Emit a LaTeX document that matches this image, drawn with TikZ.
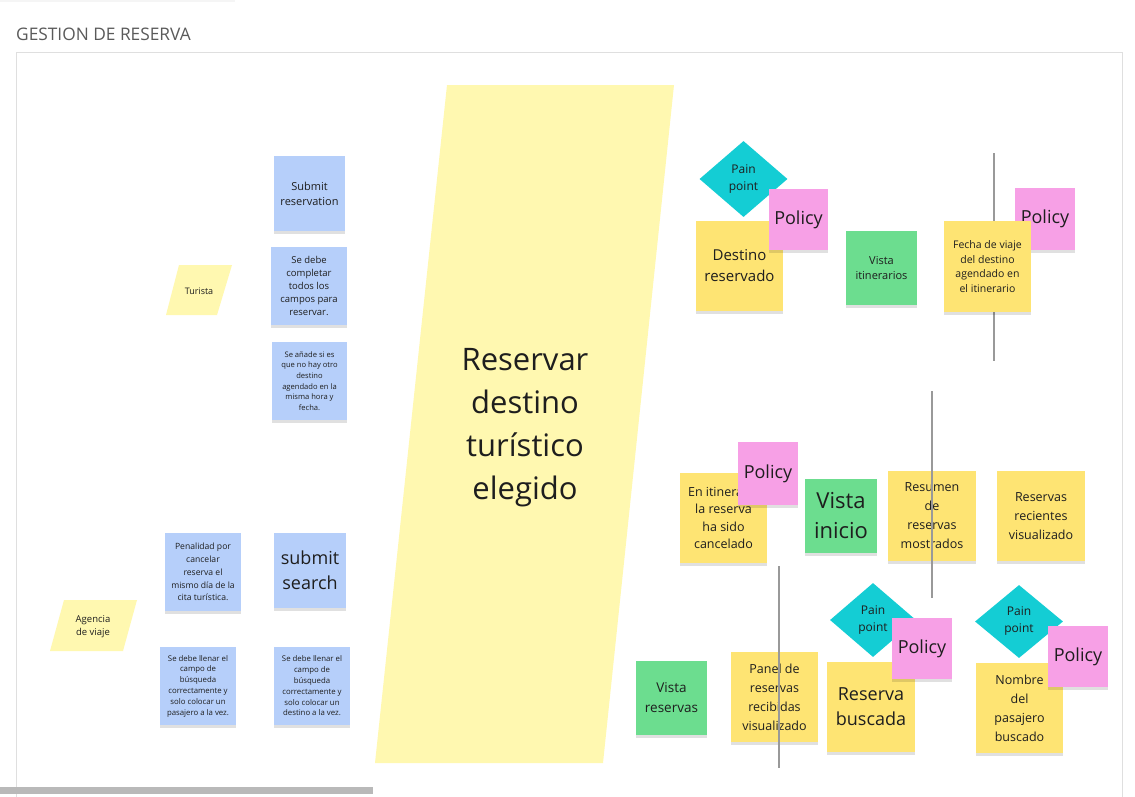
\documentclass[tikz,border=0pt]{standalone}
\usepackage{fontspec}
\setmainfont{Open Sans}
\usepackage{xcolor}
\usetikzlibrary{shapes.geometric}
\usetikzlibrary{shadows}
\definecolor{inkdark}{HTML}{1E1E1E}
\definecolor{titlegray}{HTML}{5A5A5A}
\definecolor{blueNote}{HTML}{B6CFFA}
\definecolor{yellowNote}{HTML}{FEE473}
\definecolor{paleYellow}{HTML}{FFF8B0}
\definecolor{greenNote}{HTML}{6CDD8F}
\definecolor{pinkNote}{HTML}{F7A0E6}
\definecolor{cyanNote}{HTML}{14CDD4}
\newcommand{\fsz}[2]{\fontsize{#1}{#2}\selectfont}

\tikzset{
  sticky/.style={inner sep=0pt, align=center, text=inkdark,
    drop shadow={shadow xshift=0pt, shadow yshift=-3pt, opacity=0.12, fill=black}},
  size/.style 2 args={minimum width=#1pt, minimum height=#2pt},
  bluenote/.style={sticky, fill=blueNote},
  yellownote/.style={sticky, fill=yellowNote, size={87}{90}},
  greennote/.style={sticky, fill=greenNote, size={72}{74}},
  policy/.style={sticky, fill=pinkNote, size={60}{62}, font=\fsz{18}{22}},
  painpoint/.style={diamond, inner sep=0pt, align=center, text=inkdark,
    fill=cyanNote, size={88}{75}, font=\fsz{12}{17}},
  actor/.style={align=center, text=inkdark, inner sep=0pt},
  divider/.style={draw=gray!80, line width=1.1pt}
}

\begin{document}
\begin{tikzpicture}[x=1pt, y=-1pt]
\useasboundingbox (0,0) rectangle (1135,796);
\fill[white] (0,0) rectangle (1135,796);
% board frame
\fill[gray!8] (0,0) rectangle (235,2);
\draw[gray!25] (16,797) -- (16,52) -- (1122,52) -- (1122,797);
\fill[gray!55] (0,787) rectangle (373,794);
\node[anchor=base west, text=titlegray, inner sep=0pt, font=\fsz{17.3}{20}] (title) at (16,40) {GESTION DE RESERVA};

% actors
\fill[paleYellow] (179,265) -- (232,265) -- (217,315) -- (166,315) -- cycle;
\node[actor, font=\fsz{9}{12}] (turista) at (199,291) {Turista};
\fill[paleYellow] (64,600) -- (137,600) -- (123,651) -- (50,651) -- cycle;
\node[actor, font=\fsz{9.5}{13}] (agencia) at (93,627) {Agencia\\de viaje};

% command column
\node[bluenote, size={71}{75}, font=\fsz{11}{15}] (subres) at (309.5,193.5) {Submit\\reservation};
\node[bluenote, size={76}{78}, font=\fsz{9.5}{12.8}] (completar) at (309,286) {Se debe\\completar\\todos los\\campos para\\reservar.};
\node[bluenote, size={75}{78}, font=\fsz{7.6}{10.6}] (anade) at (309.5,381) {Se añade si es\\que no hay otro\\destino\\agendado en la\\misma hora y\\fecha.};
\node[bluenote, size={76}{78}, font=\fsz{8.6}{12.8}] (penalidad) at (203,572) {Penalidad por\\cancelar\\reserva el\\mismo día de la\\cita turística.};
\node[bluenote, size={72}{75}, font=\fsz{18}{25}] (subsearch) at (310,570.5) {submit\\search};
\node[bluenote, size={76}{78}, font=\fsz{7.8}{10.8}] (llenarpas) at (198,686) {Se debe llenar el\\campo de\\búsqueda\\correctamente y\\solo colocar un\\pasajero a la vez.};
\node[bluenote, size={76}{78}, font=\fsz{7.8}{10.8}] (llenardes) at (312,686) {Se debe llenar el\\campo de\\búsqueda\\correctamente y\\solo colocar un\\destino a la vez.};

% main event
\fill[paleYellow] (447,85) -- (674,85) -- (603,763) -- (375,763) -- cycle;
\node[actor, font=\fsz{31}{43}] (reservar) at (525,428) {Reservar\\destino\\turístico\\elegido};

% top right
\node[painpoint, size={88}{76}] (pain1) at (743.5,179) {Pain\\point};
\node[yellownote, font=\fsz{15}{21}] (destino) at (739.5,266) {Destino\\reservado};
\node[policy, size={59}{61}] (policy1) at (798.5,219.5) {Policy};
\node[greennote, size={71}{74}, font=\fsz{11}{15}] (vistaitin) at (881.5,268) {Vista\\itinerarios};
\draw[divider] (994,153) -- (994,361);
\node[policy] (policy2) at (1045,219) {Policy};
\node[yellownote, size={87}{91}, font=\fsz{10.5}{14.7}] (fecha) at (987.5,266.5) {Fecha de viaje\\del destino\\agendado en\\el itinerario};

% middle right
\node[yellownote, font=\fsz{12.5}{17.3}] (cancelado) at (723.5,518) {En itinerario\\la reserva\\ha sido\\cancelado};
\node[policy, size={60}{63}] (policy3) at (768,473.5) {Policy};
\node[greennote, font=\fsz{22}{30}] (vistainicio) at (841,516) {Vista\\inicio};
\node[yellownote, size={88}{90}, font=\fsz{12.5}{19}] (resumen) at (932,516) {Resumen\\de\\reservas\\mostrados};
\draw[divider] (932,391) -- (932,598);
\node[yellownote, size={88}{90}, font=\fsz{12.5}{19}] (recientes) at (1041,516) {Reservas\\recientes\\visualizado};

% bottom right
\node[greennote, size={71}{74}, font=\fsz{13.5}{20}] (vistares) at (671.5,698) {Vista\\reservas};
\node[yellownote, font=\fsz{12.5}{19}] (panel) at (774.5,697) {Panel de\\reservas\\recibidas\\visualizado};
\draw[divider] (779,566) -- (779,768);
\node[painpoint, size={86}{74}] (pain2) at (873,620) {Pain\\point};
\node[yellownote, size={88}{90}, font=\fsz{18}{25}] (buscada) at (871,707) {Reserva\\buscada};
\node[policy, size={60}{61}] (policy4) at (922,648.5) {Policy};
\node[painpoint, size={88}{73}] (pain3) at (1019,621.5) {Pain\\point};
\node[yellownote, font=\fsz{12.5}{19}] (nombre) at (1019.5,708) {Nombre\\del\\pasajero\\buscado};
\node[policy, size={60}{61}] (policy5) at (1078,656.5) {Policy};
\end{tikzpicture}
\end{document}
